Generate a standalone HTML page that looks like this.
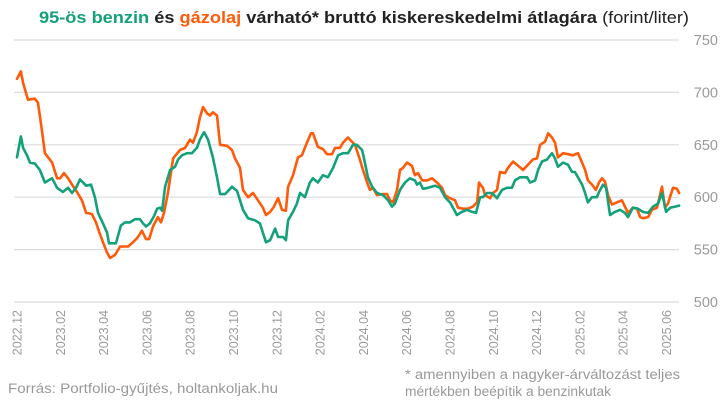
<!DOCTYPE html>
<html><head><meta charset="utf-8"><style>
html,body{margin:0;padding:0;background:#fff;}
svg{display:block;font-family:"Liberation Sans",sans-serif;}
</style></head><body>
<svg id="chart" width="721" height="403" viewBox="0 0 721 403">
<text x="364" y="23" text-anchor="middle" font-size="16.5" font-weight="bold" textLength="650" lengthAdjust="spacingAndGlyphs"><tspan fill="#13a07b">95-ös benzin</tspan><tspan fill="#222"> és </tspan><tspan fill="#ff5a0a">gázolaj</tspan><tspan fill="#222"> várható* bruttó kiskereskedelmi átlagára </tspan><tspan fill="#222" font-weight="normal">(forint/liter)</tspan></text>
<g id="grid"></g>
<g id="xaxis"></g>
<g id="series"></g>
<text x="8" y="393" font-size="13.5" fill="#999" textLength="270" lengthAdjust="spacingAndGlyphs">Forrás: Portfolio-gyűjtés, holtankoljak.hu</text>
<text x="405" y="379" font-size="13.5" fill="#999" textLength="275" lengthAdjust="spacingAndGlyphs">* amennyiben a nagyker-árváltozást teljes</text>
<text x="405" y="396" font-size="13.5" fill="#999" textLength="206" lengthAdjust="spacingAndGlyphs">mértékben beépítik a benzinkutak</text>
</svg>
<script>
const yTicks=[500,550,600,650,700,750];
const xTickLabels=["2022.12","2023.02","2023.04","2023.06","2023.08","2023.10","2023.12","2024.02","2024.04","2024.06","2024.08","2024.10","2024.12","2025.02","2025.04","2025.06"];
const dieselT=[0,0.18,0.28,0.51,0.83,0.97,1.15,1.29,1.62,1.85,1.99,2.17,2.36,2.54,2.77,3.00,3.19,3.46,3.65,3.79,3.97,4.16,4.30,4.53,4.76,5.13,5.36,5.59,5.77,5.96,6.10,6.28,6.51,6.65,6.79,6.97,7.21,7.53,7.76,7.99,8.13,8.31,8.45,8.59,8.78,8.91,9.05,9.24,9.38,9.70,9.93,10.07,10.30,10.44,10.67,10.90,11.13,11.36,11.50,11.69,11.87,12.06,12.24,12.42,12.52,12.75,12.98,13.16,13.39,13.58,13.67,13.90,14.13,14.32,14.55,14.69,14.92,15.06,15.29,15.47,15.61,15.84,15.98,16.17,16.30,16.44,16.63,16.86,17.09,17.23,17.37,17.55,17.69,17.83,18.01,18.24,18.38,18.52,18.71,18.94,19.17,19.40,19.63,19.77,20.00,20.23,20.37,20.60,20.83,21.06,21.25,21.34,21.52,21.62,21.85,21.99,22.17,22.31,22.54,22.68,22.91,23.09,23.37,23.60,23.83,24.02,24.16,24.39,24.53,24.71,24.85,24.99,25.22,25.45,25.68,25.91,26.10,26.24,26.37,26.56,26.74,26.88,27.02,27.16,27.30,27.48,27.71,27.94,28.08,28.22,28.45,28.64,28.78,28.91,29.15,29.33,29.56,29.79,29.93,30.07,30.30,30.48,30.58];
const dieselV=[713,720,709,693,694,690,664,642,633,618,618,623,618,612,605,597,585,584,576,567,557,547,542,545,553,553,557,562,568,560,560,572,581,576,585,604,637,645,647,655,652,662,676,686,680,678,681,678,650,649,645,637,628,607,600,604,597,590,583,586,591,599,588,587,610,621,638,640,652,661,661,648,646,641,641,647,647,652,657,653,650,636,626,614,607,609,602,603,603,597,595,607,626,628,633,630,621,623,616,616,618,614,609,602,599,597,590,589,589,591,595,614,609,602,599,604,607,624,623,628,634,631,626,631,636,637,650,653,661,657,652,638,642,641,640,642,633,626,616,612,607,614,618,615,602,593,595,597,591,585,590,589,581,580,581,588,590,610,590,594,609,608,604];
const petrolT=[0,0.18,0.28,0.46,0.60,0.83,1.06,1.29,1.62,1.85,2.12,2.36,2.54,2.73,2.91,3.19,3.42,3.60,3.74,3.97,4.16,4.25,4.57,4.80,4.99,5.22,5.45,5.68,5.82,5.96,6.14,6.33,6.47,6.61,6.70,6.84,7.07,7.30,7.44,7.62,7.85,8.08,8.31,8.45,8.64,8.82,9.05,9.24,9.38,9.61,9.93,10.16,10.30,10.44,10.67,10.99,11.22,11.36,11.50,11.69,11.92,12.06,12.29,12.42,12.52,12.75,12.93,13.07,13.30,13.53,13.67,13.90,14.13,14.36,14.60,14.83,15.06,15.29,15.52,15.70,15.94,16.07,16.21,16.40,16.63,16.91,17.14,17.32,17.46,17.69,17.92,18.15,18.38,18.48,18.61,18.75,18.98,19.31,19.54,19.77,20.00,20.14,20.32,20.55,20.79,21.02,21.20,21.39,21.52,21.71,21.94,22.17,22.40,22.63,22.86,23.00,23.23,23.37,23.56,23.70,23.93,24.07,24.25,24.48,24.71,24.85,24.99,25.22,25.45,25.64,25.77,25.91,26.10,26.24,26.37,26.56,26.79,26.88,27.07,27.21,27.39,27.62,27.85,28.08,28.22,28.45,28.68,28.91,29.15,29.38,29.61,29.79,29.98,30.17,30.40,30.58];
const petrolV=[638,658,647,640,633,632,626,614,618,609,605,609,604,609,617,611,612,600,585,575,566,556,556,573,576,576,579,579,575,572,575,582,589,590,587,610,626,629,636,640,642,642,647,655,662,655,638,619,603,603,610,606,597,588,580,578,575,566,557,559,570,562,562,559,578,586,594,604,600,614,618,614,621,619,628,640,642,642,650,650,645,633,619,610,604,602,597,591,594,607,614,618,616,612,614,608,609,611,609,600,595,590,583,586,588,586,585,600,600,604,604,599,607,609,609,616,619,619,619,614,616,626,634,636,642,637,629,633,631,624,624,619,612,604,595,600,600,605,612,609,583,586,588,585,581,590,589,586,585,591,594,604,586,590,591,592];

const NS="http://www.w3.org/2000/svg";
const X0=17, PX_PER_MONTH=21.65, Y_TOP=40, Y_BOT=302, VMIN=500, VMAX=750;
function xScale(t){return X0+t*PX_PER_MONTH;}
function yScale(v){return Y_BOT-(v-VMIN)/(VMAX-VMIN)*(Y_BOT-Y_TOP);}
function mk(tag,attrs){const e=document.createElementNS(NS,tag);for(const k in attrs)e.setAttribute(k,attrs[k]);return e;}

const grid=document.getElementById('grid');
yTicks.forEach(v=>{
  const y=yScale(v);
  const ln=mk('line',{x1:14,x2:679,y1:y,y2:y,stroke:'#dcdcdc','stroke-width':1.2});
  
  
  grid.appendChild(ln);
  const tx=mk('text',{x:718,y:y+5,'text-anchor':'end','font-size':14.5,fill:'#9a9a9a'});
  
  
  tx.textContent=v;
  grid.appendChild(tx);
});

const xa=document.getElementById('xaxis');
xTickLabels.forEach((lab,i)=>{
  const x=xScale(i*2);
  const tx=mk('text',{x:0,y:0,'text-anchor':'end','font-size':12.5,fill:'#9a9a9a',transform:'translate('+(x+4.5)+',310) rotate(-90)'});
  
  
  tx.textContent=lab;
  xa.appendChild(tx);
});

function drawLine(ts,vs,color,name){
  const d=ts.map((t,i)=>(i?'L':'M')+xScale(t).toFixed(1)+','+yScale(vs[i]).toFixed(1)).join(' ');
  const p=mk('path',{d:d,fill:'none',stroke:color,'stroke-width':2.6,'stroke-linejoin':'round','stroke-linecap':'round'});
  
  
  document.getElementById('series').appendChild(p);
}
drawLine(dieselT,dieselV,'#ff5a0a','diesel-line');
drawLine(petrolT,petrolV,'#13a07b','petrol-line');
</script>
</body></html>
